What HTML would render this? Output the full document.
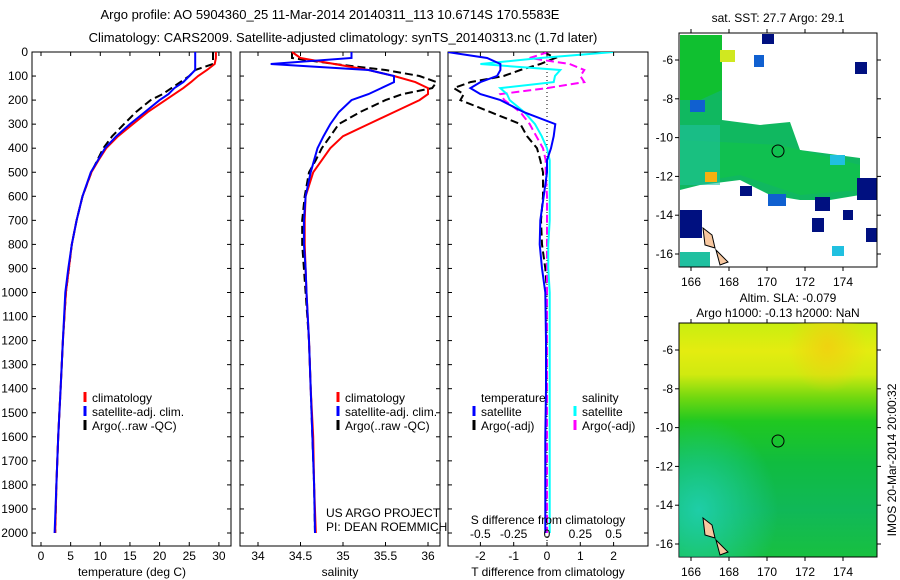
<!DOCTYPE html>
<html><head><meta charset="utf-8"><style>
body{margin:0;background:#fff;}
svg{display:block;font-family:"Liberation Sans",sans-serif;font-size:12px;}
</style></head><body>
<svg id="c" width="900" height="580" viewBox="0 0 900 580">
<defs>
<clipPath id="cp1"><rect x="32" y="40" width="199" height="506"/></clipPath>
<clipPath id="cp2"><rect x="240" y="40" width="200" height="506"/></clipPath>
<clipPath id="cp3"><rect x="448" y="52" width="200" height="494"/></clipPath>
<linearGradient id="slag" x1="0" y1="0" x2="0" y2="1">
<stop offset="0" stop-color="#c8ee10"/><stop offset="0.12" stop-color="#e4ec10"/><stop offset="0.22" stop-color="#d0ea10"/><stop offset="0.32" stop-color="#70d810"/><stop offset="0.42" stop-color="#20c820"/><stop offset="0.6" stop-color="#10bc40"/><stop offset="0.8" stop-color="#10b858"/><stop offset="1" stop-color="#18c040"/></linearGradient>
<radialGradient id="cy" cx="0.1" cy="0.8" r="0.4"><stop offset="0" stop-color="#20d0b0" stop-opacity="0.9"/><stop offset="1" stop-color="#20d0b0" stop-opacity="0"/></radialGradient>
<radialGradient id="yo" cx="0.75" cy="0.1" r="0.2"><stop offset="0" stop-color="#f0d010" stop-opacity="0.9"/><stop offset="1" stop-color="#f0d010" stop-opacity="0"/></radialGradient>
</defs>
<text x="330" y="19" text-anchor="middle" font-size="13">Argo profile: AO 5904360_25 11-Mar-2014 20140311_113 10.6714S 170.5583E</text>
<text x="343" y="42" text-anchor="middle" font-size="13">Climatology: CARS2009. Satellite-adjusted climatology: synTS_20140313.nc (1.7d later)</text>
<g id="p1"></g>
<g id="p2"></g>
<g id="p3"></g>
<g>
<rect x="679" y="33" width="198" height="234" fill="#fff"/>
<polygon points="680,35 722,35 722,120 760,125 790,122 800,150 860,158 860,195 830,200 800,200 770,195 740,180 700,185 680,190" fill="#10b860"/>
<polygon points="680,35 722,35 722,90 700,100 680,100" fill="#10c030"/>
<polygon points="720,50 735,50 735,62 720,62" fill="#d0e820"/>
<polygon points="680,140 780,145 840,160 860,165 860,190 800,195 740,175 680,185" fill="#10c050"/>
<rect x="680" y="125" width="40" height="60" fill="#20c0a0" opacity="0.6"/>
<rect x="690" y="100" width="15" height="12" fill="#1060d0"/>
<rect x="705" y="172" width="12" height="10" fill="#f8b010"/>
<rect x="762" y="34" width="12" height="10" fill="#001080"/>
<rect x="754" y="55" width="10" height="12" fill="#1060d0"/>
<rect x="855" y="62" width="12" height="12" fill="#001080"/>
<rect x="857" y="178" width="20" height="22" fill="#001080"/>
<rect x="815" y="197" width="15" height="14" fill="#001080"/>
<rect x="812" y="218" width="12" height="14" fill="#001080"/>
<rect x="843" y="210" width="10" height="10" fill="#001080"/>
<rect x="866" y="228" width="11" height="14" fill="#001080"/>
<rect x="680" y="210" width="22" height="28" fill="#001080"/>
<rect x="740" y="186" width="12" height="10" fill="#001080"/>
<rect x="768" y="194" width="18" height="12" fill="#1060d0"/>
<rect x="830" y="155" width="15" height="10" fill="#20c0e0"/>
<rect x="832" y="246" width="12" height="10" fill="#20c0e0"/>
<rect x="680" y="252" width="30" height="15" fill="#20c0a0"/>
<polygon points="703,228 712,235 715,248 705,245" fill="#f8c8a0" stroke="#000"/>
<polygon points="716,250 728,262 720,265" fill="#f8c8a0" stroke="#000"/>
<circle cx="778" cy="151" r="6" fill="none" stroke="#000"/>
<rect x="679" y="33" width="198" height="234" fill="none" stroke="#000"/>
</g>
<g>
<rect x="679" y="323" width="198" height="234" fill="url(#slag)" stroke="#000"/>
<rect x="679" y="323" width="198" height="234" fill="url(#cy)"/>
<rect x="679" y="323" width="198" height="234" fill="url(#yo)"/>
<polygon points="703,518 712,525 715,538 705,535" fill="#f8c8a0" stroke="#000"/>
<polygon points="716,540 728,552 720,555" fill="#f8c8a0" stroke="#000"/>
<circle cx="778" cy="441" r="6" fill="none" stroke="#000"/>
</g>
<text x="778" y="22" text-anchor="middle">sat. SST: 27.7 Argo: 29.1</text>
<text x="788" y="302" text-anchor="middle">Altim. SLA: -0.079</text>
<text x="778" y="317" text-anchor="middle">Argo h1000: -0.13 h2000: NaN</text>
<text transform="translate(896,460) rotate(-90)" text-anchor="middle">IMOS 20-Mar-2014 20:00:32</text>
<g id="maxes"></g>
</svg>
<script>
// depth grid
const depths=[0,25,50,75,100,125,150,175,200,250,300,350,400,450,500,600,700,800,900,1000,1200,1400,1600,1800,2000];
const tClim=[29.5,29.5,29.3,28,26.5,25.3,24,22.5,21,18,15.5,13,11,9.7,8.5,7,6,5.2,4.7,4.2,3.7,3.3,2.9,2.6,2.4];
const tArgo=[29,29,29,26,25,23.5,22,20.5,18.5,16,14,12,10.5,9.5,8.5,7,6,5.2,4.7,4.2,3.7,3.3,2.9,2.6,2.4];
const tSat=[26,26,26,26,25,24,22.5,21.5,20,17.5,15,12.7,10.8,9.6,8.4,7,6,5.2,4.6,4.1,3.7,3.3,2.9,2.6,2.3];
const sClim=[34.4,34.5,34.9,35.3,35.6,35.85,36.0,36.0,35.9,35.6,35.3,35.0,34.85,34.75,34.65,34.56,34.55,34.55,34.56,34.57,34.6,34.62,34.65,34.66,34.68];
const sArgo=[34.4,34.4,34.9,35.5,35.9,36.1,36.05,35.7,35.5,35.2,34.95,34.85,34.75,34.68,34.6,34.55,34.52,34.52,34.54,34.56,34.6,34.62,34.64,34.66,34.67];
const sSat=[35.1,35.1,34.15,35.3,35.6,35.6,35.45,35.3,35.1,34.95,34.85,34.77,34.7,34.66,34.62,34.56,34.54,34.54,34.56,34.57,34.6,34.62,34.64,34.66,34.67];
const dTsat=[-3,-1.8,-1.4,-1.4,-1.5,-2,-2.3,-2,-1.4,-0.7,0.25,0.2,0.12,0,0,-0.1,-0.2,-0.22,-0.15,-0.05,-0.03,-0.03,-0.05,-0.05,-0.05];
const dTargo=[-0.1,0.25,-0.2,-0.8,-1.3,-2.3,-2.8,-2.5,-2.6,-1.7,-0.8,-0.6,-0.3,-0.2,-0.12,-0.12,-0.18,-0.15,-0.05,0,0,0,-0.03,-0.03,-0.03];
const dSsat=[0.5,-0.05,-0.5,0.1,0.06,0.05,-0.35,-0.3,-0.28,-0.17,-0.09,-0.04,0,0.02,0.02,0.02,0.02,0.01,0.01,0.02,0.02,0.02,0.02,0.02,0.02];
const dSargo=[0.01,-0.13,0.17,0.28,0.25,0.28,0,-0.35,-0.32,-0.2,-0.13,-0.08,-0.03,-0.01,-0.01,0,0,0,0,0,0,0,0,0,0];
const depthTicks=[0,100,200,300,400,500,600,700,800,900,1000,1100,1200,1300,1400,1500,1600,1700,1800,1900,2000];
const tTicks=[0,5,10,15,20,25,30];
const sTicks=[34,34.5,35,35.5,36];
const dtTicks=[-2,-1,0,1,2];
const dsTicks=[-0.5,-0.25,0,0.25,0.5];
const lonTicks=[166,168,170,172,174];
const latTicks=[-6,-8,-10,-12,-14,-16];

const NS='http://www.w3.org/2000/svg';
function mk(tag,attrs,parent,txt){const e=document.createElementNS(NS,tag);for(const k in attrs)e.setAttribute(k,attrs[k]);if(txt!==undefined)e.textContent=txt;parent.appendChild(e);return e;}
const yD=d=>52+d*0.2405;
const xT=v=>41+v*5.93;
const xS=v=>258+(v-34)*85;
const xDT=v=>547+v*33.3;
const xDS=v=>547+v*133.3;
function line(g,vals,fx,color,dash,clip,name,w){
  const pts=vals.map((v,i)=>fx(v).toFixed(1)+','+yD(depths[i]).toFixed(1)).join(' ');
  const p=mk('polyline',{points:pts,fill:'none',stroke:color,'stroke-width':w||2,'clip-path':'url(#'+clip+')'},g);
  if(dash)p.setAttribute('stroke-dasharray',dash);
  
  
}
function frame(g,x,w,yLabels){
  mk('rect',{x:x,y:52,width:w,height:494,fill:'none',stroke:'#000'},g);
  depthTicks.forEach(d=>{
    mk('line',{x1:x,x2:x+4,y1:yD(d),y2:yD(d),stroke:'#000'},g);
    mk('line',{x1:x+w-4,x2:x+w,y1:yD(d),y2:yD(d),stroke:'#000'},g);
    if(yLabels){const t=mk('text',{x:x-4,y:yD(d)+4,'text-anchor':'end'},g,String(d));
      
      }
  });
}
function xticks(g,ticks,fx,y,lab){
  ticks.forEach(v=>{const x=fx(v);
    mk('line',{x1:x,x2:x,y1:546,y2:542,stroke:'#000'},g);
    mk('line',{x1:x,x2:x,y1:52,y2:56,stroke:'#000'},g);
    const t=mk('text',{x:x,y:y,'text-anchor':'middle'},g,String(v));
    
    });
  const t=mk('text',{x:lab[0],y:lab[1],'text-anchor':'middle'},g,lab[2]);
  
  
}
function legend(g,x,y,items){
  items.forEach((it,i)=>{
    mk('line',{x1:x,x2:x,y1:y+i*14-10,y2:y+i*14,stroke:it[1],'stroke-width':3},g);
    const t=mk('text',{x:x+7,y:y+i*14},g,it[0]);
    
    
  });
}
const p1=document.getElementById('p1');
frame(p1,32,199,true);
line(p1,tArgo,xT,'#000','8,4','cp1','argo-temperature-line');
line(p1,tClim,xT,'#f00',null,'cp1','climatology-temperature-line');
line(p1,tSat,xT,'#00f',null,'cp1','satellite-temperature-line');
xticks(p1,tTicks,xT,560,[132,576,'temperature (deg C)']);
legend(p1,85,402,[['climatology','#f00'],['satellite-adj. clim.','#00f'],['Argo(..raw -QC)','#000']]);

const p2=document.getElementById('p2');
frame(p2,240,200,false);
line(p2,sArgo,xS,'#000','8,4','cp2','argo-salinity-line');
line(p2,sClim,xS,'#f00',null,'cp2','climatology-salinity-line');
line(p2,sSat,xS,'#00f',null,'cp2','satellite-salinity-line');
xticks(p2,sTicks,xS,560,[340,576,'salinity']);
legend(p2,338,402,[['climatology','#f00'],['satellite-adj. clim.','#00f'],['Argo(..raw -QC)','#000']]);
mk('text',{x:326,y:517},p2,'US ARGO PROJECT');
mk('text',{x:326,y:531},p2,'PI: DEAN ROEMMICH');

const p3=document.getElementById('p3');
frame(p3,448,200,false);
mk('line',{x1:547,x2:547,y1:52,y2:546,stroke:'#000','stroke-dasharray':'1,3'},p3);
line(p3,dTargo,xDT,'#000','8,4','cp3','argo-temperature-diff-line');
line(p3,dSargo,xDS,'#f0f','8,4','cp3','argo-salinity-diff-line');
line(p3,dSsat,xDS,'#0ff',null,'cp3','satellite-salinity-diff-line');
line(p3,dTsat,xDT,'#00f',null,'cp3','satellite-temperature-diff-line');
xticks(p3,dtTicks,xDT,560,[548,576,'T difference from climatology']);
dsTicks.forEach(v=>{const t=mk('text',{x:xDS(v),y:538,'text-anchor':'middle'},p3,String(v));
  
  });
mk('text',{x:548,y:524,'text-anchor':'middle'},p3,'S difference from climatology');
mk('text',{x:481,y:402},p3,'temperature');
mk('text',{x:582,y:402},p3,'salinity');
legend(p3,474,416,[['satellite','#00f'],['Argo(-adj)','#000']]);
legend(p3,575,416,[['satellite','#0ff'],['Argo(-adj)','#f0f']]);

const ma=document.getElementById('maxes');
[[33,267,282,60],[323,557,572,350]].forEach(m=>{
  lonTicks.forEach(v=>{const x=691+(v-166)*19;
    mk('line',{x1:x,x2:x,y1:m[1],y2:m[1]+4,stroke:'#000'},ma);
    mk('line',{x1:x,x2:x,y1:m[0],y2:m[0]-4,stroke:'#000'},ma);
    const t=mk('text',{x:x,y:m[2]+4,'text-anchor':'middle'},ma,String(v));
    
    });
  latTicks.forEach(v=>{const y=m[3]+(-6-v)*19.4;
    mk('line',{x1:675,x2:679,y1:y,y2:y,stroke:'#000'},ma);
    mk('line',{x1:877,x2:881,y1:y,y2:y,stroke:'#000'},ma);
    const t=mk('text',{x:673,y:y+4,'text-anchor':'end'},ma,String(v));
    
    });
});
</script>
</body></html>
